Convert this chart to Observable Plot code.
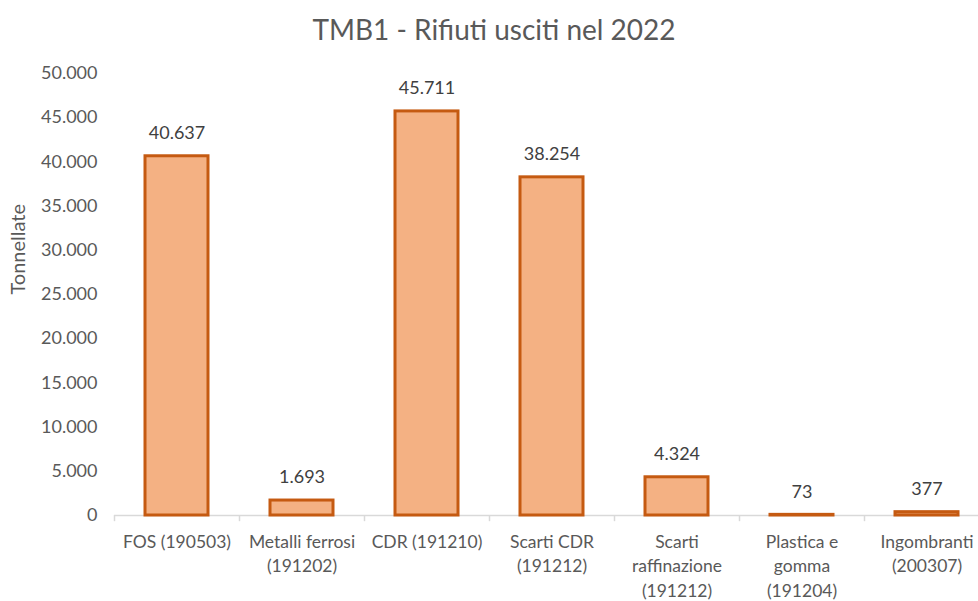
<!DOCTYPE html>
<html>
<head>
<meta charset="utf-8">
<script src="https://cdn.jsdelivr.net/npm/d3@7"></script>
<script src="https://cdn.jsdelivr.net/npm/@observablehq/plot@0.6"></script>
<style>
  html, body { margin: 0; padding: 0; background: #fff; overflow: hidden; width: 978px; height: 601px; }
  #title { font-family: Lato, "Open Sans", sans-serif; font-size: 28px; color: #595959; text-align: center; width: 978px; height: 50px; line-height: 58px; padding-left: 10px; box-sizing: border-box; }
  #chart svg { display: block; overflow: visible; max-width: none !important; }
</style>
</head>
<body>
<div id="title">TMB1 - Rifiuti usciti nel 2022</div>
<div id="chart"></div>
<script>
const categories = ["FOS (190503)", "Metalli ferrosi (191202)", "CDR (191210)", "Scarti CDR (191212)", "Scarti raffinazione (191212)", "Plastica e gomma (191204)", "Ingombranti (200307)"];
const axisLabels = ["FOS (190503)", "Metalli ferrosi\n(191202)", "CDR (191210)", "Scarti CDR\n(191212)", "Scarti\nraffinazione\n(191212)", "Plastica e\ngomma\n(191204)", "Ingombranti\n(200307)"];
const values = [40637, 1693, 45711, 38254, 4324, 73, 377];
const yTicks = [0, 5000, 10000, 15000, 20000, 25000, 30000, 35000, 40000, 45000, 50000];

const data = categories.map((c, i) => ({cat: c, label: axisLabels[i], value: values[i]}));
const it = d3.formatLocale({decimal: ",", thousands: ".", grouping: [3], currency: ["", "€"]});
const fmt = it.format(",d");

const W = 990, ML = 114, MR = 1;
const step = (W - ML - MR) / categories.length;
const font = "Lato, 'Open Sans', sans-serif";

const chart = Plot.plot({
  width: W,
  height: 551,
  marginLeft: ML,
  marginRight: MR,
  marginTop: 23,
  marginBottom: 86,
  style: {fontFamily: font, fontSize: "18px", color: "#595959", background: "#fff", maxWidth: "none"},
  x: {domain: categories, paddingInner: 0.5, paddingOuter: 0.25, axis: null},
  y: {domain: [0, 50000]},
  marks: [
    Plot.axisY({ticks: yTicks, tickSize: 0, tickPadding: 17, tickFormat: fmt, fontSize: 18, fill: "#595959",
      label: null}),
    Plot.text(["Tonnellate"], {frameAnchor: "left", dx: -96, rotate: -90, fontSize: 20, fill: "#595959"}),
    Plot.ruleY([0], {stroke: "#d9d9d9", strokeWidth: 1.5}),
    Plot.ruleX(categories, {x: d => d, dx: -step / 2, y1: 0, y2: -700, stroke: "#d9d9d9", strokeWidth: 1.5}),
    Plot.ruleX([categories[categories.length - 1]], {x: d => d, dx: step / 2, y1: 0, y2: -700, stroke: "#d9d9d9", strokeWidth: 1.5}),
    Plot.barY(data, {x: "cat", y: "value", fill: "#F4B183", stroke: "#C55A11", strokeWidth: 3}),
    Plot.text(data, {x: "cat", y: "value", text: d => fmt(d.value), dy: -23, fontSize: 18, fill: "#404040"}),
    Plot.text(data, {x: "cat", y: 0, text: "label", dy: 15, lineAnchor: "top", lineHeight: 1.4, fontSize: 17.5, fill: "#595959"})
  ]
});
document.getElementById("chart").appendChild(chart);
</script>
</body>
</html>
